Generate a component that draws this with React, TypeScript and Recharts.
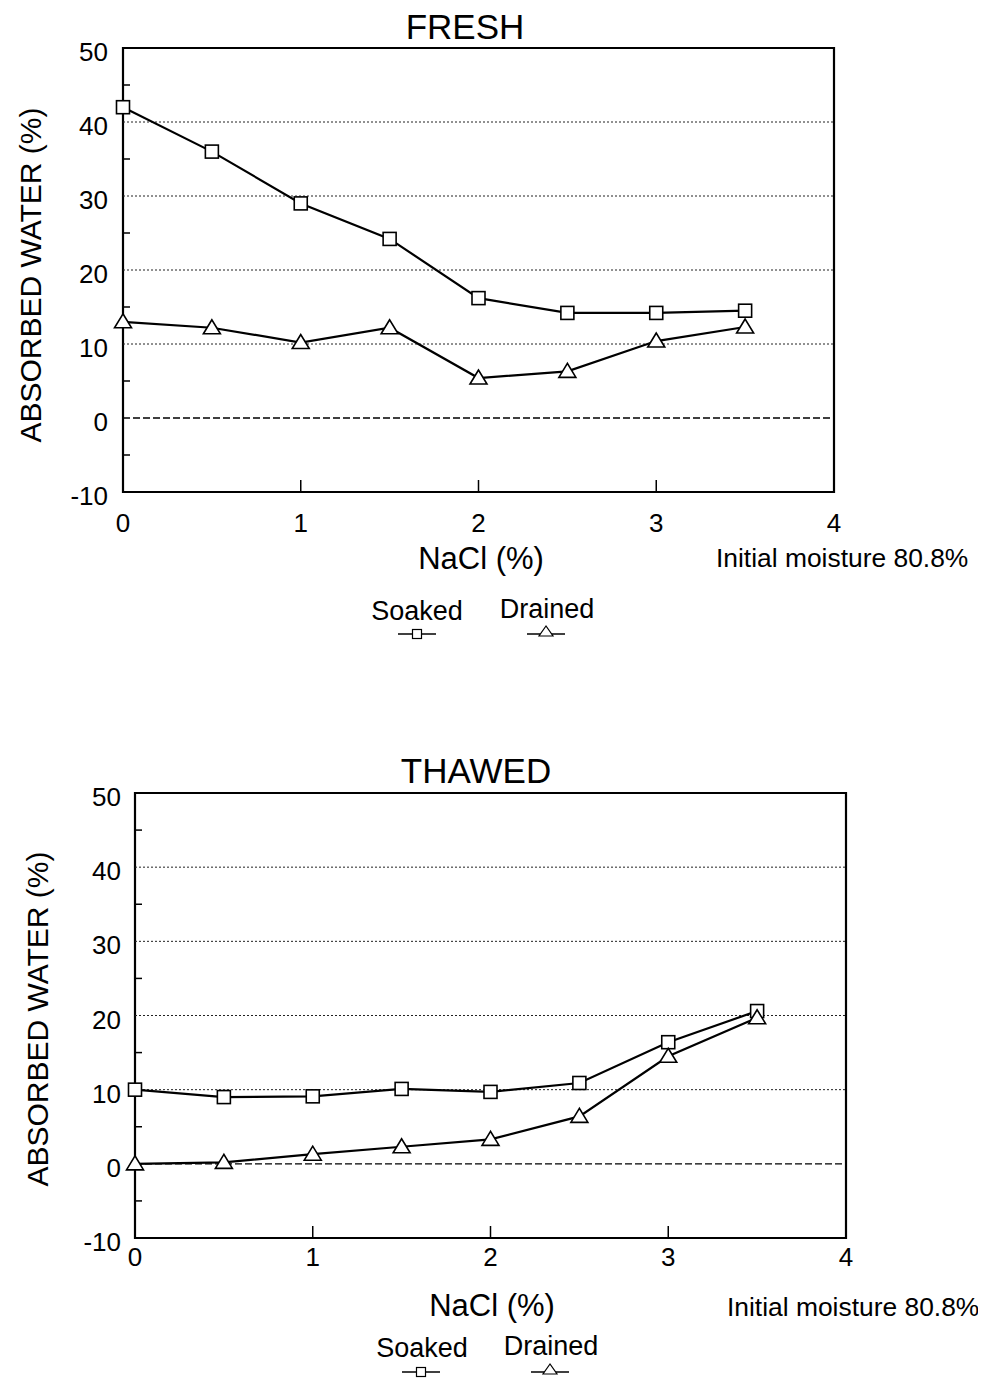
import React from 'react';
import { LineChart, Line, XAxis, YAxis, ReferenceLine, ReferenceArea, Legend } from 'recharts';

const naclLevels = [0, 0.5, 1, 1.5, 2, 2.5, 3, 3.5];
const freshSoaked = [42, 36, 29, 24.2, 16.2, 14.2, 14.2, 14.5];
const freshDrained = [13, 12.2, 10.2, 12.2, 5.4, 6.3, 10.4, 12.3];
const thawedSoaked = [10, 9, 9.1, 10.1, 9.7, 10.9, 16.4, 20.6];
const thawedDrained = [0, 0.2, 1.3, 2.3, 3.3, 6.4, 14.5, 19.7];

const xTicks = [0, 1, 2, 3, 4];
const yTicks = [-10, -5, 0, 5, 10, 15, 20, 25, 30, 35, 40, 45, 50];
const gridValues = [10, 20, 30, 40];
const seriesNames = ['Soaked', 'Drained'];
const xLabel = 'NaCl (%)';
const yLabel = 'ABSORBED WATER (%)';
const note = 'Initial moisture 80.8%';

const FONT = '"Liberation Sans", Arial, Helvetica, sans-serif';
const PAD = 8;

const buildData = (soaked: number[], drained: number[]) =>
  naclLevels.map((n, i) => ({ nacl: n, soaked: soaked[i], drained: drained[i] }));

const SquareDot = (props: any) => {
  const { cx, cy, index } = props;
  return (
    <rect key={`sq-${index}`} x={cx - 6.5} y={cy - 6.5} width={13} height={13} fill="#fff" stroke="#000" strokeWidth={1.6} />
  );
};

const TriDot = (props: any) => {
  const { cx, cy, index } = props;
  return (
    <path
      key={`tr-${index}`}
      d={`M${cx},${cy - 8} L${cx - 8.5},${cy + 6} L${cx + 8.5},${cy + 6} Z`}
      fill="#fff"
      stroke="#000"
      strokeWidth={1.6}
    />
  );
};

const makeXTick = (labelOffset: number) => (props: any) => {
  const { x, y, payload } = props;
  const v = payload.value;
  return (
    <g>
      {v > 0 && v < 4 && <line x1={x} x2={x} y1={y} y2={y - 12} stroke="#000" strokeWidth={1.5} />}
      <text x={x} y={y + labelOffset} textAnchor="middle" fontSize={26} fontFamily={FONT} fill="#000">
        {v}
      </text>
    </g>
  );
};

const makeYTick = (gap: number) => (props: any) => {
  const { x, y, payload } = props;
  const v = payload.value;
  if (v % 10 !== 0) {
    return <line x1={x} x2={x + 7} y1={y} y2={y} stroke="#000" strokeWidth={1.5} />;
  }
  return (
    <text x={x - gap} y={y + 13} textAnchor="end" fontSize={26} fontFamily={FONT} fill="#000">
      {v}
    </text>
  );
};

type Pos = { x: number; y: number };
type PanelCfg = {
  title: string;
  soaked: number[];
  drained: number[];
  top: number;
  height: number;
  margin: { top: number; left: number; right: number; bottom: number };
  xLabelOffset: number;
  yGap: number;
  titlePos: Pos;
  yLabelPos: Pos;
  xLabelPos: Pos;
  notePos: Pos;
  legSoakText: Pos;
  legSoakMark: Pos;
  legDrainText: Pos;
  legDrainMark: Pos;
};

const Panel = ({ cfg }: { cfg: PanelCfg }) => {
  const data = buildData(cfg.soaked, cfg.drained);
  const legendContent = () => (
    <svg width={970} height={cfg.height} style={{ position: 'absolute', left: 0, top: 0, pointerEvents: 'none' }}>
      <text x={cfg.legSoakText.x} y={cfg.legSoakText.y + 10} textAnchor="middle" fontSize={27} fontFamily={FONT}>
        {seriesNames[0]}
      </text>
      <line x1={cfg.legSoakMark.x - 19} x2={cfg.legSoakMark.x + 19} y1={cfg.legSoakMark.y} y2={cfg.legSoakMark.y} stroke="#000" strokeWidth={1.5} />
      <rect x={cfg.legSoakMark.x - 4.5} y={cfg.legSoakMark.y - 4.5} width={9} height={9} fill="#fff" stroke="#000" strokeWidth={1.2} />
      <text x={cfg.legDrainText.x} y={cfg.legDrainText.y + 10} textAnchor="middle" fontSize={27} fontFamily={FONT}>
        {seriesNames[1]}
      </text>
      <line x1={cfg.legDrainMark.x - 19} x2={cfg.legDrainMark.x + 19} y1={cfg.legDrainMark.y + 2} y2={cfg.legDrainMark.y + 2} stroke="#000" strokeWidth={1.5} />
      <path
        d={`M${cfg.legDrainMark.x},${cfg.legDrainMark.y - 6} L${cfg.legDrainMark.x - 7},${cfg.legDrainMark.y + 4} L${cfg.legDrainMark.x + 7},${cfg.legDrainMark.y + 4} Z`}
        fill="#fff"
        stroke="#000"
        strokeWidth={1.2}
      />
    </svg>
  );
  return (
    <div style={{ position: 'absolute', left: 0, top: cfg.top, width: 970, height: cfg.height }}>
      <LineChart width={970} height={cfg.height} data={data} margin={cfg.margin}>
        <XAxis
          type="number"
          dataKey="nacl"
          domain={[0, 4]}
          ticks={xTicks}
          interval={0}
          height={1}
          tickSize={0}
          tickMargin={0}
          axisLine={false}
          tickLine={false}
          tick={makeXTick(cfg.xLabelOffset)}
        />
        <YAxis
          type="number"
          domain={[-10, 50]}
          ticks={yTicks}
          interval={0}
          width={1}
          tickSize={0}
          tickMargin={0}
          axisLine={false}
          tickLine={false}
          tick={makeYTick(cfg.yGap)}
        />
        {gridValues.map((g) => (
          <ReferenceLine key={g} y={g} stroke="#222" strokeWidth={1} strokeDasharray="2 2" />
        ))}
        <ReferenceLine y={0} stroke="#000" strokeWidth={1.3} strokeDasharray="7 3" />
        <ReferenceArea x1={0} x2={4} y1={-10} y2={50} fill="none" fillOpacity={0} stroke="#000" strokeWidth={2.2} />
        <Line
          type="linear"
          dataKey="soaked"
          name={seriesNames[0]}
          stroke="#000"
          strokeWidth={2.2}
          dot={SquareDot}
          activeDot={false}
          isAnimationActive={false}
        />
        <Line
          type="linear"
          dataKey="drained"
          name={seriesNames[1]}
          stroke="#000"
          strokeWidth={2.2}
          dot={TriDot}
          activeDot={false}
          isAnimationActive={false}
        />
        <Legend
          layout="horizontal"
          verticalAlign="middle"
          align="center"
          content={legendContent}
          wrapperStyle={{ left: 0, top: 0, width: 970, height: cfg.height, pointerEvents: 'none' }}
        />
      </LineChart>
      <svg
        width={970}
        height={cfg.height + PAD}
        style={{ position: 'absolute', left: 0, top: -PAD, pointerEvents: 'none', overflow: 'visible' }}
      >
        <g transform={`translate(0 ${PAD})`}>
          <text x={cfg.titlePos.x} y={cfg.titlePos.y + 13} textAnchor="middle" fontSize={35} fontFamily={FONT}>
            {cfg.title}
          </text>
          <text
            x={cfg.yLabelPos.x}
            y={cfg.yLabelPos.y}
            transform={`rotate(-90 ${cfg.yLabelPos.x} ${cfg.yLabelPos.y})`}
            textAnchor="middle"
            dy="0.36em"
            fontSize={30}
            fontFamily={FONT}
          >
            {yLabel}
          </text>
          <text x={cfg.xLabelPos.x} y={cfg.xLabelPos.y + 11} textAnchor="middle" fontSize={31} fontFamily={FONT}>
            {xLabel}
          </text>
          <text x={cfg.notePos.x} y={cfg.notePos.y + 9} textAnchor="start" fontSize={26.4} fontFamily={FONT}>
            {note}
          </text>
        </g>
      </svg>
    </div>
  );
};

const freshCfg: PanelCfg = {
  title: 'FRESH',
  soaked: freshSoaked,
  drained: freshDrained,
  top: 0,
  height: 700,
  margin: { top: 40, left: 114, right: 144, bottom: 215 },
  xLabelOffset: 40,
  yGap: 15,
  titlePos: { x: 457, y: 18 },
  yLabelPos: { x: 22, y: 267 },
  xLabelPos: { x: 473, y: 550 },
  notePos: { x: 708, y: 550 },
  legSoakText: { x: 409, y: 602 },
  legSoakMark: { x: 409, y: 626 },
  legDrainText: { x: 539, y: 600 },
  legDrainMark: { x: 538, y: 624 },
};

const thawedCfg: PanelCfg = {
  title: 'THAWED',
  soaked: thawedSoaked,
  drained: thawedDrained,
  top: 740,
  height: 630,
  margin: { top: 45, left: 126, right: 132, bottom: 139 },
  xLabelOffset: 28,
  yGap: 14,
  titlePos: { x: 468, y: 22 },
  yLabelPos: { x: 29, y: 271 },
  xLabelPos: { x: 484, y: 557 },
  notePos: { x: 719, y: 559 },
  legSoakText: { x: 414, y: 599 },
  legSoakMark: { x: 413, y: 624 },
  legDrainText: { x: 543, y: 597 },
  legDrainMark: { x: 542, y: 622 },
};

export default function App() {
  return (
    <div style={{ position: 'relative', width: 970, height: 1370, background: '#fff', fontFamily: FONT }}>
      <Panel cfg={freshCfg} />
      <Panel cfg={thawedCfg} />
    </div>
  );
}
